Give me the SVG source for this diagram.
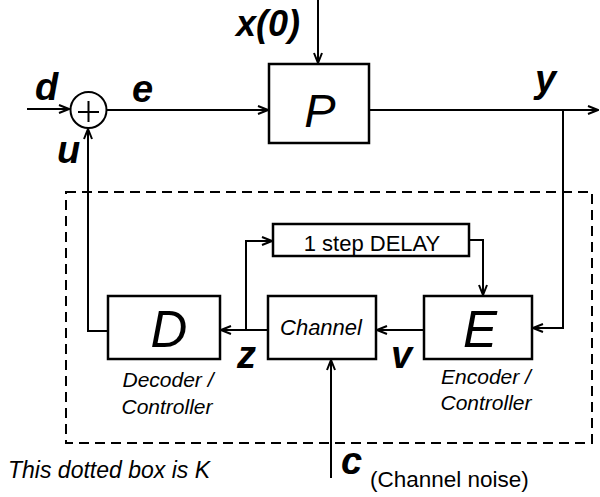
<svg xmlns="http://www.w3.org/2000/svg" width="600" height="497" viewBox="0 0 600 497">
  <style>
    .box { fill: #fff; stroke: #000; stroke-width: 2.5; }
    .wire { fill: none; stroke: #000; stroke-width: 2; }
    .var { font-family: "Liberation Sans", Arial, sans-serif; font-weight: bold; font-style: italic; font-size: 38px; fill: #000; }
    .big { font-family: "Liberation Sans", Arial, sans-serif; font-style: italic; fill: #000; text-anchor: middle; }
    .note { font-family: "Liberation Sans", Arial, sans-serif; font-style: italic; font-size: 21px; fill: #000; }
    .plain { font-family: "Liberation Sans", Arial, sans-serif; font-size: 22px; fill: #000; }
  </style>
  <defs>
    <marker id="arrow" viewBox="0 0 12 10" refX="11" refY="5" markerWidth="12" markerHeight="10" markerUnits="userSpaceOnUse" orient="auto">
      <path d="M1,1 L11,5 L1,9" fill="none" stroke="#000" stroke-width="2"/>
    </marker>
  </defs>

  <rect width="600" height="497" fill="#fff"/>

  <!-- boundary of K -->
  <rect x="66" y="192" width="526" height="251" fill="none" stroke="#000" stroke-width="2" stroke-dasharray="10,6"/>

  <g id="connectors">
    <path class="wire" d="M27,109 H69" marker-end="url(#arrow)"/>
    <path class="wire" d="M107,110 H268" marker-end="url(#arrow)"/>
    <path class="wire" d="M318,0 V63" marker-end="url(#arrow)"/>
    <path class="wire" d="M369,110 H598" marker-end="url(#arrow)"/>
    <path class="wire" d="M563,110 V328 H533" marker-end="url(#arrow)"/>
    <path class="wire" d="M424,330 H377" marker-end="url(#arrow)"/>
    <path class="wire" d="M268,330 H221" marker-end="url(#arrow)"/>
    <path class="wire" d="M246,330 V241 H272" marker-end="url(#arrow)"/>
    <path class="wire" d="M469,240 H483 V295" marker-end="url(#arrow)"/>
    <path class="wire" d="M331,478 V360" marker-end="url(#arrow)"/>
    <path class="wire" d="M107,331 H88 V129" marker-end="url(#arrow)"/>
  </g>

  <g id="sum">
    <circle cx="88.5" cy="110" r="18" fill="#fff" stroke="#000" stroke-width="2"/>
    <path d="M78,112 H99 M88.5,101 V122" stroke="#000" stroke-width="2"/>
  </g>

  <g id="P">
    <rect class="box" x="269" y="64" width="100" height="79"/>
    <text class="big" x="320" y="127" font-size="47">P</text>
  </g>

  <g id="delay">
    <rect class="box" x="273" y="224" width="196" height="32"/>
    <text class="plain" x="372" y="251" text-anchor="middle">1 step DELAY</text>
  </g>

  <g id="D">
    <rect class="box" x="108" y="296" width="112" height="63"/>
    <text class="big" x="169" y="347" font-size="51">D</text>
    <text class="note" x="168" y="387" text-anchor="middle">Decoder /</text>
    <text class="note" x="167" y="414" text-anchor="middle">Controller</text>
  </g>

  <g id="channel">
    <rect class="box" x="268" y="296" width="108" height="63"/>
    <text class="big" x="321" y="335" font-size="22">Channel</text>
  </g>

  <g id="E">
    <rect class="box" x="424" y="296" width="108" height="63"/>
    <text class="big" x="480" y="347" font-size="51">E</text>
    <text class="note" x="486" y="384" text-anchor="middle">Encoder /</text>
    <text class="note" x="486" y="410" text-anchor="middle">Controller</text>
  </g>

  <g id="labels">
    <text class="var" x="35" y="100">d</text>
    <text class="var" x="132" y="102">e</text>
    <text class="var" x="236" y="36" style="font-size:36px">x(0)</text>
    <text class="var" x="535" y="92">y</text>
    <text class="var" x="57" y="163">u</text>
    <text class="var" x="237" y="368">z</text>
    <text class="var" x="391" y="368">v</text>
    <text class="var" x="341" y="474">c</text>
    <text class="plain" x="370" y="487" style="font-size:22.5px">(Channel noise)</text>
    <text class="note" x="8" y="478" style="font-size:23px">This dotted box is K</text>
  </g>
</svg>
